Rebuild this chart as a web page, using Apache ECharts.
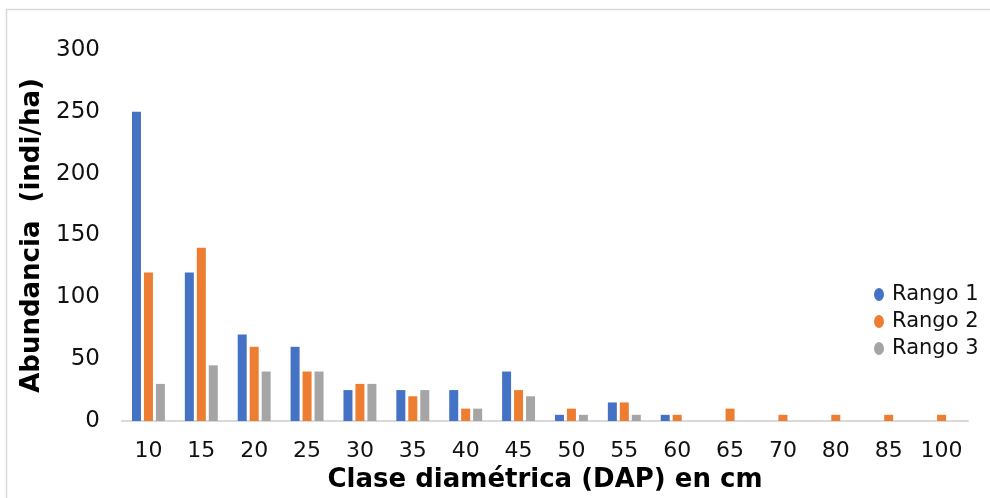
<!DOCTYPE html>
<html>
<head>
<meta charset="utf-8">
<script src="https://cdn.jsdelivr.net/npm/echarts@6/dist/echarts.min.js"></script>
<style>html,body{margin:0;padding:0;background:#fff}#c{width:990px;height:498px}</style>
</head>
<body>
<div id="c"></div>
<script>
const categories = ['10','15','20','25','30','35','40','45','50','55','60','65','70','80','85','100'];
const rango1 = [250,120,70,60,25,25,25,40,5,15,5,0,0,0,0,0];
const rango2 = [120,140,60,40,30,20,10,25,10,15,5,10,5,5,5,5];
const rango3 = [30,45,40,40,30,25,10,20,5,5,0,0,0,0,0,0];
const seriesNames = ['Rango 1','Rango 2','Rango 3'];
const colors = ['#4472C4','#ED7D31','#A5A5A5'];
const font = '"DejaVu Sans", Verdana, sans-serif';
const ellipse = 'path://M5,0 A5,6.5 0 1,1 5,13 A5,6.5 0 1,1 5,0 Z';

const chart = echarts.init(document.getElementById('c'), null, {renderer:'canvas'});
const values = [rango1, rango2, rango3];
chart.setOption({
  animation: false,
  backgroundColor: '#fff',
  graphic: [{
    type: 'rect', left: 4, top: 7, shape: {width: 1000, height: 500},
    style: {fill: 'none', stroke: '#d9d9d9', lineWidth: 1.5}, silent: true, z: -10
  }],
  grid: {left: 122, top: 50, width: 846, bottom: 73},
  legend: {
    orient: 'vertical', left: 869, top: 279,
    itemWidth: 10, itemHeight: 13, itemGap: 6,
    icon: ellipse,
    textStyle: {fontFamily: font, fontSize: 21, color: '#111', padding: [0, 0, 0, 3]},
    data: seriesNames
  },
  xAxis: {
    type: 'category', data: categories,
    name: 'Clase diamétrica (DAP) en cm', nameLocation: 'middle', nameGap: 46,
    nameTextStyle: {fontFamily: font, fontSize: 26, fontWeight: 'bold', color: '#000'},
    axisLine: {lineStyle: {color: '#d9d9d9', width: 2}},
    axisTick: {show: false},
    axisLabel: {interval: 0, fontFamily: font, fontSize: 22, color: '#111', margin: 19}
  },
  yAxis: {
    type: 'value', min: 0, max: 300, interval: 50,
    name: 'Abundancia  (indi/ha)', nameLocation: 'middle', nameGap: 72,
    nameTextStyle: {fontFamily: font, fontSize: 26, fontWeight: 'bold', color: '#000'},
    axisLine: {show: false}, axisTick: {show: false},
    splitLine: {show: false},
    axisLabel: {fontFamily: font, fontSize: 23, color: '#111', margin: 22}
  },
  series: seriesNames.map((n, i) => ({
    name: n, type: 'bar', data: values[i],
    barWidth: 9, barGap: '33%',
    itemStyle: {color: colors[i]}
  }))
});
</script>
</body>
</html>
